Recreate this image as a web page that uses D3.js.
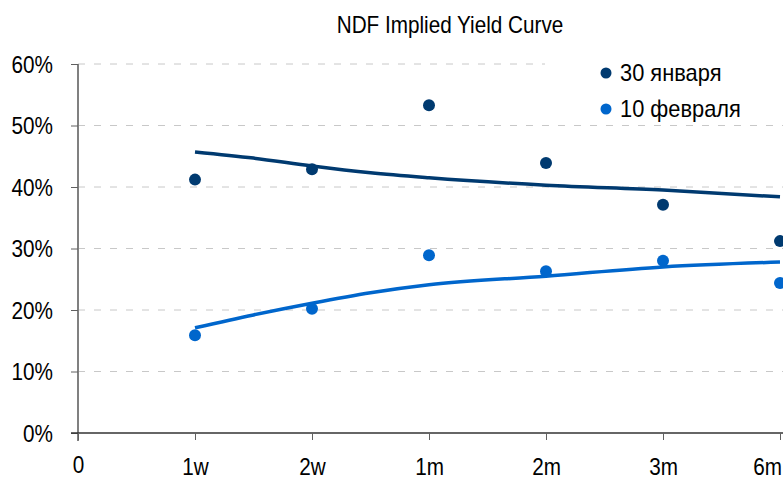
<!DOCTYPE html>
<html><head><meta charset="utf-8">
<script src="https://cdn.jsdelivr.net/npm/d3@7"></script>
<style>body{margin:0;background:#fff}svg{display:block}text{font-family:"Liberation Sans",Arial,sans-serif;fill:#000}</style>
</head><body><svg id="c" width="783" height="481"></svg>
<script>
const xLabels = ["0","1w","2w","1m","2m","3m","6m"];
const yTicks = [0,10,20,30,40,50,60];
const seriesNames = ["30 января","10 февраля"];
const seriesColors = ["#003a70","#0066cc"];
const pointIdx = [1,2,3,4,5,6];
const jan30 = [41.2,42.9,53.3,43.9,37.1,31.2];
const feb10 = [15.9,20.2,28.9,26.3,28.0,24.4];
const trendIdx = [1,1.5,2,2.5,3,4,5,6];
const jan30Trend = [45.7,44.7,43.4,42.3,41.5,40.3,39.5,38.4];
const feb10Trend = [17.1,19.2,21.1,22.8,24.1,25.5,27.0,27.8];

const SX = 0.9, FS = "23px";
const svg = d3.select("#c");
const x = d3.scaleLinear().domain([0,6]).range([78,780]);
const y = d3.scaleLinear().domain([0,60]).range([433,64]);

svg.append("g").selectAll("line").data(yTicks.filter(d=>d>0)).join("line")
  .attr("x1",78).attr("x2",783).attr("y1",d=>y(d)).attr("y2",d=>y(d))
  .attr("stroke","#c8c8c8").attr("stroke-width",1).attr("stroke-dasharray","7,9");

svg.append("text").attr("transform",`translate(450,33) scale(${SX},1)`).attr("text-anchor","middle")
  .style("font-size",FS).text("NDF Implied Yield Curve");

const yAxis = svg.append("g").attr("transform","translate(78,0)")
  .call(d3.axisLeft(y).tickValues(yTicks).tickFormat(d=>d+"%").tickSize(7).tickPadding(18));
yAxis.select(".domain").attr("d","M0,64V441").attr("stroke","#808080").attr("stroke-width",2);
yAxis.selectAll(".tick line").attr("stroke","#606060");
yAxis.selectAll(".tick text").style("font-size",FS).attr("x",-25/SX).attr("dy","0.35em")
  .attr("transform",`scale(${SX},1)`);

const xAxis = svg.append("g").attr("transform","translate(0,433)")
  .call(d3.axisBottom(x).tickValues(d3.range(xLabels.length)).tickFormat(i=>xLabels[i]).tickSize(7).tickPadding(0));
xAxis.select(".domain").attr("d","M71,0H783").attr("stroke","#333").attr("stroke-width",1.5);
xAxis.selectAll(".tick line").attr("stroke","#606060");
xAxis.selectAll(".tick text").style("font-size",FS).attr("dy",null)
  .attr("y",(d,i)=>i===0?40:42)
  .attr("x",(d,i)=>i===xLabels.length-1?-13/SX:0)
  .attr("transform",`scale(${SX},1)`);

const line = d3.line().x(d=>x(d[0])).y(d=>y(d[1])).curve(d3.curveMonotoneX);
[jan30Trend,feb10Trend].forEach((t,k)=>{
  svg.append("path").datum(trendIdx.map((v,i)=>[v,t[i]])).attr("d",line)
    .attr("fill","none").attr("stroke",seriesColors[k]).attr("stroke-width",3.5);
});

[jan30,feb10].forEach((s,k)=>{
  svg.append("g").selectAll("circle").data(s).join("circle")
    .attr("cx",(d,i)=>x(pointIdx[i])).attr("cy",d=>y(d)).attr("r",6)
    .attr("fill",seriesColors[k]);
});

svg.append("rect").attr("x",545).attr("y",48).attr("width",238).attr("height",74).attr("fill","#fff");
seriesNames.forEach((n,k)=>{
  const g = svg.append("g").attr("transform",`translate(606,${73+k*36})`);
  g.append("circle").attr("r",5.5).attr("fill",seriesColors[k]);
  g.append("text").attr("transform","translate(14,0) scale(0.95,1)").attr("dy","0.35em").style("font-size",FS).text(n);
});
</script></body></html>
